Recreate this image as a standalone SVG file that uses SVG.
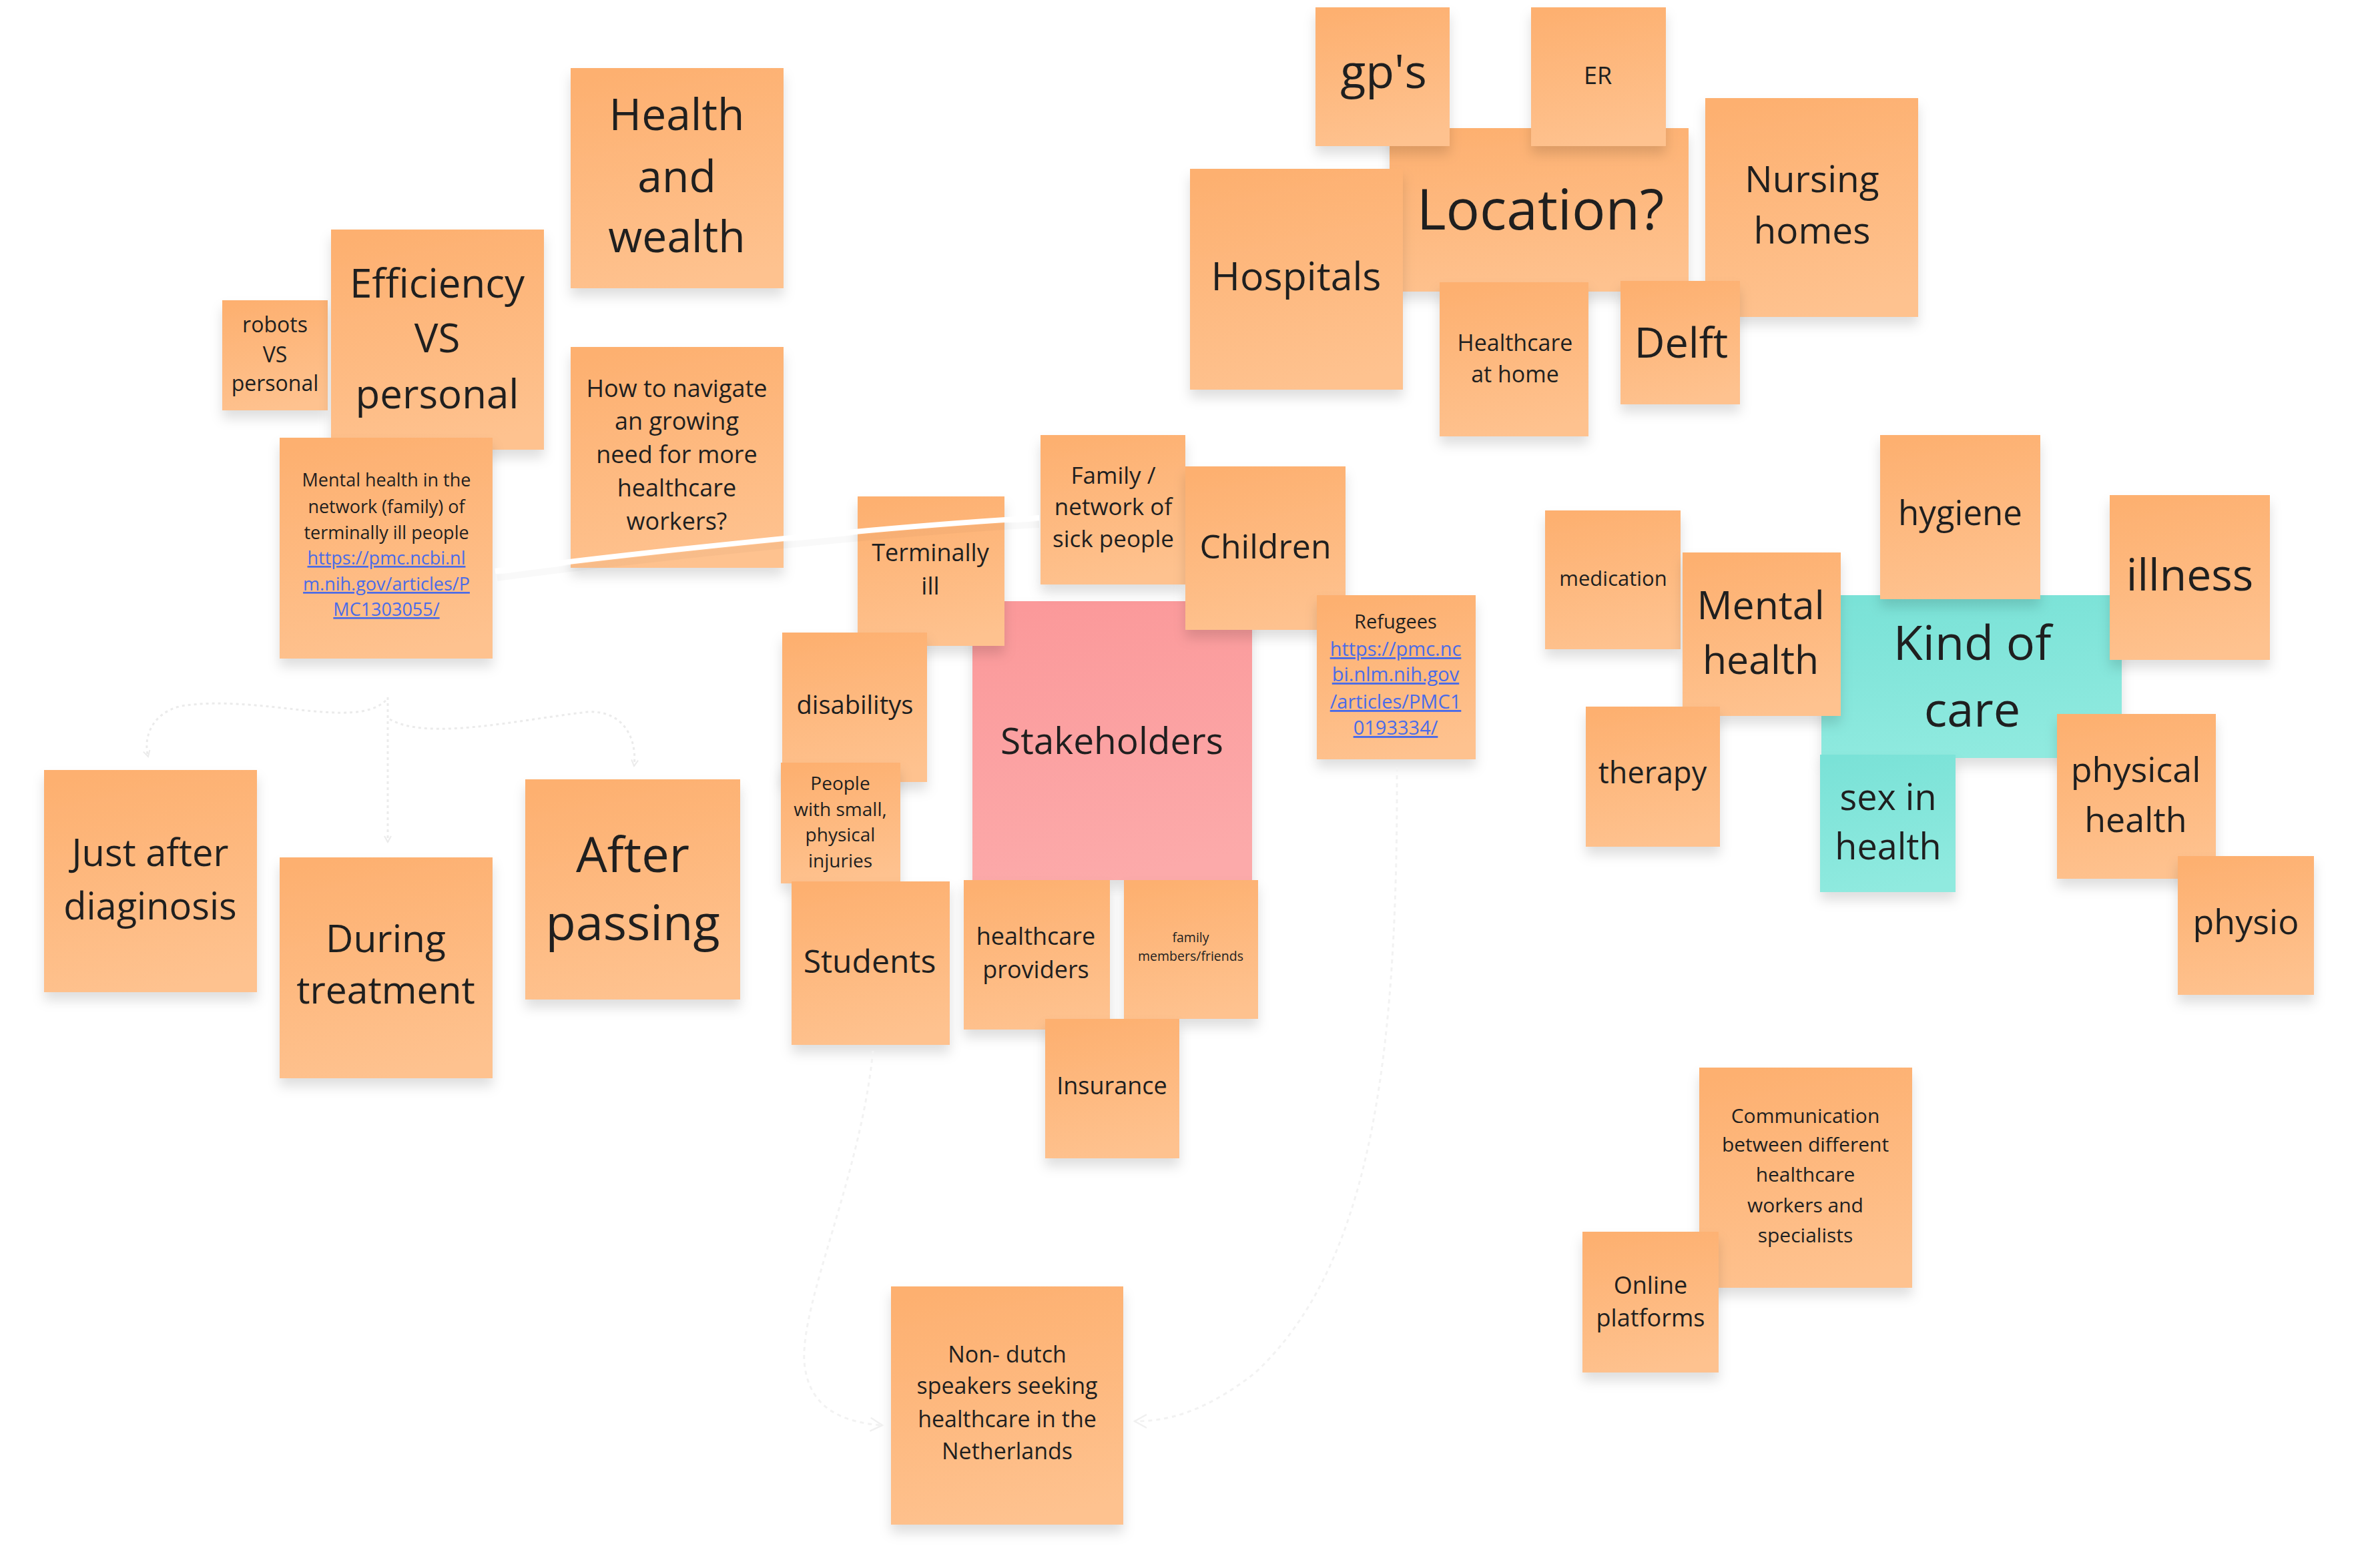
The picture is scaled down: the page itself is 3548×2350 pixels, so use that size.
<svg xmlns="http://www.w3.org/2000/svg" width="3548" height="2350" viewBox="0 0 3548 2350">
<defs>
<linearGradient id="go" x1="0.3" y1="0" x2="0.5" y2="1"><stop offset="0" stop-color="#fdb070"/><stop offset="1" stop-color="#fec28f"/></linearGradient>
<linearGradient id="gp" x1="0.3" y1="0" x2="0.5" y2="1"><stop offset="0" stop-color="#fb999a"/><stop offset="1" stop-color="#fcaaaa"/></linearGradient>
<linearGradient id="gt" x1="0.3" y1="0" x2="0.5" y2="1"><stop offset="0" stop-color="#7ae2d7"/><stop offset="1" stop-color="#90eadf"/></linearGradient>
<filter id="sh" x="-20%" y="-20%" width="140%" height="150%"><feDropShadow dx="0" dy="12" stdDeviation="9" flood-color="#000" flood-opacity="0.13"/></filter>
<marker id="ah" viewBox="0 0 12 12" refX="10" refY="6" markerWidth="12" markerHeight="12" orient="auto" markerUnits="userSpaceOnUse"><path d="M1 1 L10 6 L1 11" fill="none" stroke="#ebebeb" stroke-width="2"/></marker>
<marker id="ah2" viewBox="0 0 24 24" refX="20" refY="12" markerWidth="24" markerHeight="24" orient="auto" markerUnits="userSpaceOnUse"><path d="M2 2 L20 12 L2 22" fill="none" stroke="#f0f0f0" stroke-width="2.5"/></marker>
</defs>
<style>
.o{fill:url(#go);filter:url(#sh)}
.p{fill:url(#gp);filter:url(#sh)}
.c{fill:url(#gt);filter:url(#sh)}
text{font-family:"Open Sans","Noto Sans","Liberation Sans",sans-serif;fill:#1f1f1f;text-anchor:middle}
.lk{fill:#4a6be8;text-decoration:underline}
.dot{fill:none;stroke:#ebebeb;stroke-width:3;stroke-dasharray:4 5}
.faint{fill:none;stroke:#f2f2f2;stroke-width:3;stroke-dasharray:6 6}
</style>
<rect width="3548" height="2350" fill="#ffffff"/>

<g id="n-robots"><rect class="o" x="333" y="450" width="158" height="165"/><text font-size="32"><tspan x="412" y="498">robots</tspan><tspan x="412" y="543">VS</tspan><tspan x="412" y="586">personal</tspan></text></g>
<g id="n-efficiency"><rect class="o" x="496" y="344" width="319" height="330"/><text font-size="60"><tspan x="655" y="446">Efficiency</tspan><tspan x="655" y="528">VS</tspan><tspan x="655" y="612">personal</tspan></text></g>
<g id="n-network"><rect class="o" x="419" y="656" width="319" height="331"/><text font-size="27"><tspan x="579" y="729">Mental health in the</tspan><tspan x="579" y="769">network (family) of</tspan><tspan x="579" y="808">terminally ill people</tspan><tspan class="lk" x="579" y="846">https://pmc.ncbi.nl</tspan><tspan class="lk" x="579" y="885">m.nih.gov/articles/P</tspan><tspan class="lk" x="579" y="923">MC1303055/</tspan></text></g>
<g id="n-health-wealth"><rect class="o" x="855" y="102" width="319" height="330"/><text font-size="66"><tspan x="1014" y="195">Health</tspan><tspan x="1014" y="288">and</tspan><tspan x="1014" y="378">wealth</tspan></text></g>
<g id="n-navigate"><rect class="o" x="855" y="520" width="319" height="331"/><text font-size="36"><tspan x="1014" y="595">How to navigate</tspan><tspan x="1014" y="644">an growing</tspan><tspan x="1014" y="694">need for more</tspan><tspan x="1014" y="744">healthcare</tspan><tspan x="1014" y="794">workers?</tspan></text></g>

<g id="n-location"><rect class="o" x="2082" y="192" width="448" height="245"/><text font-size="84"><tspan x="2308" y="344">Location?</tspan></text></g>
<g id="n-gps"><rect class="o" x="1971" y="11" width="201" height="208"/><text font-size="70"><tspan x="2073" y="132">gp's</tspan></text></g>
<g id="n-er"><rect class="o" x="2294" y="11" width="202" height="208"/><text font-size="36"><tspan x="2394" y="126">ER</tspan></text></g>
<g id="n-hospitals"><rect class="o" x="1783" y="253" width="319" height="331"/><text font-size="59"><tspan x="1942" y="435">Hospitals</tspan></text></g>
<g id="n-nursing"><rect class="o" x="2555" y="147" width="319" height="328"/><text font-size="55"><tspan x="2715" y="288">Nursing</tspan><tspan x="2715" y="365">homes</tspan></text></g>
<g id="n-home"><rect class="o" x="2157" y="423" width="223" height="231"/><text font-size="34"><tspan x="2270" y="526">Healthcare</tspan><tspan x="2270" y="573">at home</tspan></text></g>
<g id="n-delft"><rect class="o" x="2428" y="421" width="179" height="185"/><text font-size="63"><tspan x="2519" y="536">Delft</tspan></text></g>

<g id="n-stakeholders"><rect class="p" x="1457" y="901" width="419" height="418"/><text font-size="55"><tspan x="1666" y="1130">Stakeholders</tspan></text></g>
<g id="n-family-network"><rect class="o" x="1559" y="652" width="217" height="224"/><text font-size="35"><tspan x="1668" y="725">Family /</tspan><tspan x="1668" y="772">network of</tspan><tspan x="1668" y="820">sick people</tspan></text></g>
<g id="n-terminally"><rect class="o" x="1285" y="744" width="220" height="224"/><text font-size="36"><tspan x="1394" y="841">Terminally</tspan><tspan x="1394" y="891">ill</tspan></text></g>
<g id="n-children"><rect class="o" x="1776" y="699" width="240" height="245"/><text font-size="50"><tspan x="1896" y="837">Children</tspan></text></g>
<g id="n-refugees"><rect class="o" x="1973" y="892" width="238" height="246"/><text font-size="29"><tspan x="2091" y="942">Refugees</tspan><tspan class="lk" x="2091" y="983">https://pmc.nc</tspan><tspan class="lk" x="2091" y="1021">bi.nlm.nih.gov</tspan><tspan class="lk" x="2091" y="1062">/articles/PMC1</tspan><tspan class="lk" x="2091" y="1101">0193334/</tspan></text></g>
<g id="n-disabilitys"><rect class="o" x="1172" y="948" width="217" height="224"/><text font-size="38"><tspan x="1281" y="1070">disabilitys</tspan></text></g>
<g id="n-injuries"><rect class="o" x="1170" y="1143" width="179" height="181"/><text font-size="28"><tspan x="1259" y="1184">People</tspan><tspan x="1259" y="1223">with small,</tspan><tspan x="1259" y="1261">physical</tspan><tspan x="1259" y="1300">injuries</tspan></text></g>
<g id="n-students"><rect class="o" x="1186" y="1321" width="237" height="245"/><text font-size="48"><tspan x="1303" y="1458">Students</tspan></text></g>
<g id="n-providers"><rect class="o" x="1444" y="1319" width="219" height="224"/><text font-size="36"><tspan x="1552" y="1416">healthcare</tspan><tspan x="1552" y="1466">providers</tspan></text></g>
<g id="n-members"><rect class="o" x="1684" y="1319" width="201" height="208"/><text font-size="19.5"><tspan x="1784" y="1412">family</tspan><tspan x="1784" y="1440">members/friends</tspan></text></g>
<g id="n-insurance"><rect class="o" x="1566" y="1527" width="201" height="209"/><text font-size="36"><tspan x="1666" y="1640">Insurance</tspan></text></g>
<g id="n-nondutch"><rect class="o" x="1335" y="1928" width="348" height="357"/><text font-size="34"><tspan x="1509" y="2042">Non- dutch</tspan><tspan x="1509" y="2089">speakers seeking</tspan><tspan x="1509" y="2139">healthcare in the</tspan><tspan x="1509" y="2187">Netherlands</tspan></text></g>

<g id="n-just-after"><rect class="o" x="66" y="1154" width="319" height="333"/><text font-size="56"><tspan x="225" y="1298">Just after</tspan><tspan x="225" y="1378">diaginosis</tspan></text></g>
<g id="n-during"><rect class="o" x="419" y="1285" width="319" height="331"/><text font-size="57"><tspan x="578" y="1427">During</tspan><tspan x="578" y="1504">treatment</tspan></text></g>
<g id="n-after"><rect class="o" x="787" y="1168" width="322" height="330"/><text font-size="74"><tspan x="948" y="1307">After</tspan><tspan x="948" y="1409">passing</tspan></text></g>

<g id="n-kind"><rect class="c" x="2729" y="892" width="450" height="244"/><text font-size="72"><tspan x="2955" y="989">Kind of</tspan><tspan x="2955" y="1089">care</tspan></text></g>
<g id="n-medication"><rect class="o" x="2315" y="765" width="203" height="208"/><text font-size="31"><tspan x="2417" y="878">medication</tspan></text></g>
<g id="n-mental"><rect class="o" x="2521" y="828" width="237" height="245"/><text font-size="59"><tspan x="2638" y="928">Mental</tspan><tspan x="2638" y="1010">health</tspan></text></g>
<g id="n-therapy"><rect class="o" x="2376" y="1059" width="201" height="210"/><text font-size="45"><tspan x="2476" y="1174">therapy</tspan></text></g>
<g id="n-hygiene"><rect class="o" x="2817" y="652" width="240" height="246"/><text font-size="51"><tspan x="2937" y="787">hygiene</tspan></text></g>
<g id="n-illness"><rect class="o" x="3161" y="742" width="240" height="247"/><text font-size="66"><tspan x="3281" y="885">illness</tspan></text></g>
<g id="n-sex"><rect class="c" x="2727" y="1131" width="203" height="206"/><text font-size="54"><tspan x="2829" y="1214">sex in</tspan><tspan x="2829" y="1288">health</tspan></text></g>
<g id="n-physical"><rect class="o" x="3082" y="1070" width="238" height="247"/><text font-size="52"><tspan x="3200" y="1172">physical</tspan><tspan x="3200" y="1247">health</tspan></text></g>
<g id="n-physio"><rect class="o" x="3263" y="1283" width="204" height="208"/><text font-size="52"><tspan x="3365" y="1400">physio</tspan></text></g>

<g id="n-communication"><rect class="o" x="2546" y="1600" width="319" height="330"/><text font-size="30"><tspan x="2705" y="1683">Communication</tspan><tspan x="2705" y="1726">between different</tspan><tspan x="2705" y="1771">healthcare</tspan><tspan x="2705" y="1817">workers and</tspan><tspan x="2705" y="1862">specialists</tspan></text></g>
<g id="n-online"><rect class="o" x="2371" y="1846" width="204" height="211"/><text font-size="36"><tspan x="2473" y="1939">Online</tspan><tspan x="2473" y="1988">platforms</tspan></text></g>

<g id="connectors">
<path d="M745 866 C 900 845, 1300 800, 1557 786" fill="none" stroke="#000" stroke-opacity="0.025" stroke-width="10"/>
<path d="M742 856 C 900 835, 1300 790, 1557 776" fill="none" stroke="#ffffff" stroke-width="8"/>
<path class="dot" d="M581 1045 L581 1262" marker-end="url(#ah)"/>
<path class="dot" d="M578 1050 C 530 1095, 390 1040, 272 1058 C 228 1068, 214 1105, 222 1134" marker-end="url(#ah)"/>
<path class="dot" d="M584 1078 C 640 1110, 770 1080, 880 1067 C 935 1064, 955 1108, 950 1148" marker-end="url(#ah)"/>
<path class="faint" d="M2093 1150 C 2095 1600, 2050 1900, 1880 2058 C 1800 2120, 1745 2130, 1700 2130" marker-end="url(#ah2)"/>
<path class="faint" d="M1308 1575 C 1290 1760, 1200 1950, 1205 2040 C 1210 2110, 1262 2132, 1322 2136" marker-end="url(#ah2)"/>
</g>
</svg>
